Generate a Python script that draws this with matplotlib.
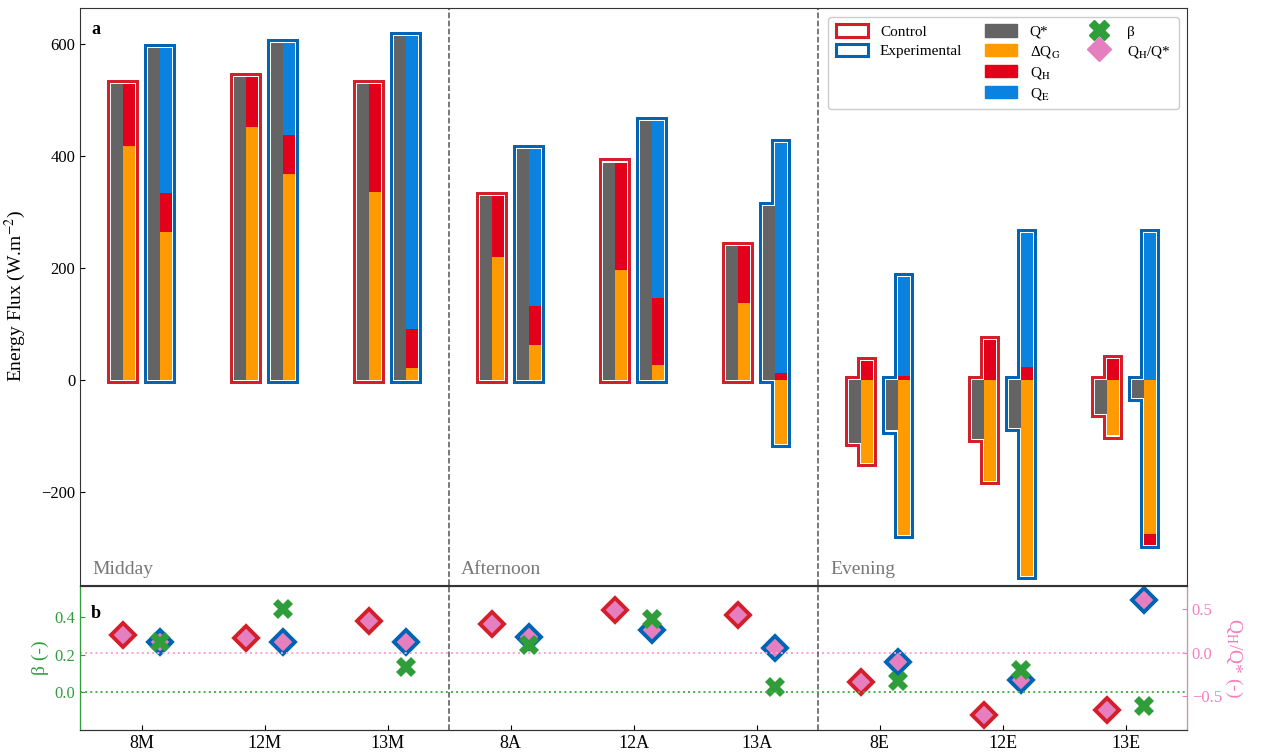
import numpy as np
import matplotlib
matplotlib.use('Agg')
import matplotlib.pyplot as plt
from matplotlib.patches import Patch
from matplotlib.lines import Line2D

plt.rcParams['font.family'] = ['Liberation Serif', 'DejaVu Serif']
plt.rcParams['mathtext.fontset'] = 'stix'

# Данные (W m-2)
sites = ['8M', '12M', '13M', '8A', '12A', '13A', '8E', '12E', '13E']
periods = ['Midday', 'Afternoon', 'Evening']

ctrl_qstar = [528, 540, 528, 328, 388, 239, -113, -106, -61]
ctrl_dqg = [417, 451, 336, 219, 197, 137, -148, -180, -99]
ctrl_qh = [111, 89, 192, 109, 191, 102, 34, 71, 37]
ctrl_qe = [0, 0, 0, 0, 0, 0, 0, 0, 0]

exp_qstar = [592, 602, 614, 412, 462, 310, -90, -86, -32]
exp_dqg = [265, 367, 21, 62, 26, -114, -277, -350, -275]
exp_qh = [69, 71, 70, 70, 120, 12, 7, 23, -19]
exp_qe = [258, 164, 523, 280, 316, 411, 177, 239, 262]

ctrl_ratio = [0.208, 0.163, 0.36, 0.333, 0.49, 0.428, -0.33, -0.708, -0.66]
exp_ratio = [0.117, 0.117, 0.117, 0.174, 0.258, 0.049, -0.11, -0.31, 0.60]
exp_beta = [0.267, 0.442, 0.135, 0.25, 0.389, 0.028, 0.058, 0.117, -0.071]

c_gray = '#646464'
c_orange = '#ff9a00'
c_red = '#e2001a'
c_blue = '#0a82e0'
c_ctrl = '#d41f2a'
c_exp = '#0064b4'
c_pink = '#e67fc0'
c_green = '#2f9e3a'
c_pink_ax = '#f77fc0'

x = np.arange(len(sites))
w = 0.1
off = 0.15
px, py = 0.008, 2.0


def draw_group(ax, xc, qstar, parts, edge):
    xg = xc - w / 2
    xs = xc + w / 2
    pos = np.zeros(len(xc))
    neg = np.zeros(len(xc))
    stacks = []
    for vals, col in parts:
        v = np.array(vals, dtype=float)
        bot = np.where(v >= 0, pos, neg)
        stacks.append((v, bot, col))
        pos = pos + np.clip(v, 0, None)
        neg = neg + np.clip(v, None, 0)
    qs = np.array(qstar, dtype=float)
    g_lo = np.minimum(0, qs)
    g_hi = np.maximum(0, qs)
    # контур: толстая рамка, затем белая подложка
    for face, ec, z in [('none', edge, 2), ('white', 'none', 3)]:
        ax.bar(xg, g_hi - g_lo + 2 * py, bottom=g_lo - py, width=w + 2 * px,
               facecolor=face, edgecolor=ec, linewidth=4.3, zorder=z)
        ax.bar(xs, pos - neg + 2 * py, bottom=neg - py, width=w + 2 * px,
               facecolor=face, edgecolor=ec, linewidth=4.3, zorder=z)
    ax.bar(xg, qs, width=w, color=c_gray, zorder=4)
    for v, bot, col in stacks:
        ax.bar(xs, v, bottom=bot, width=w, color=col, zorder=4)


fig = plt.figure(figsize=(12.63, 7.52), dpi=100)
ax = fig.add_axes([80 / 1263, 1 - 585 / 752, 1107 / 1263, 577 / 752])
axq = fig.add_axes([80 / 1263, 1 - 730 / 752, 1107 / 1263, 144 / 752])

draw_group(ax, x - off, ctrl_qstar,
           [(ctrl_dqg, c_orange), (ctrl_qh, c_red), (ctrl_qe, c_blue)], c_ctrl)
draw_group(ax, x + off, exp_qstar,
           [(exp_dqg, c_orange), (exp_qh, c_red), (exp_qe, c_blue)], c_exp)

ax.set_xlim(-0.5, 8.5)
ax.set_ylim(-366, 664)
ax.set_xticks([])
ax.set_yticks([-200, 0, 200, 400, 600])
ax.tick_params(axis='y', direction='in', labelsize=12)
ax.set_ylabel('Energy Flux (W.m$^{-2}$)', fontsize=14)
ax.yaxis.set_label_coords(-0.047, 0.5)
for s in ax.spines.values():
    s.set_color('#333333')
for xd in [2.5, 5.5]:
    ax.axvline(xd, color='#555555', ls='--', lw=1.1)
for i, p in enumerate(periods):
    ax.text(-0.4 + 3 * i, -354, p, color='#777777', fontsize=14, va='bottom')
ax.text(0.01, 0.955, 'a', transform=ax.transAxes, fontsize=13, fontweight='bold')

blank = Patch(alpha=0)
handles = [Patch(facecolor='white', edgecolor=c_ctrl, lw=2.2),
           Patch(facecolor='white', edgecolor=c_exp, lw=2.2), blank, blank,
           Patch(color=c_gray), Patch(color=c_orange), Patch(color=c_red), Patch(color=c_blue),
           Line2D([], [], ls='none', marker='X', ms=14, color=c_green),
           Line2D([], [], ls='none', marker='D', ms=12, color=c_pink), blank, blank]
labels = ['Control', 'Experimental', '', '', 'Q*', r'ΔQ$_\mathrm{G}$', r'Q$_\mathrm{H}$',
          r'Q$_\mathrm{E}$', 'β', r'Q$_\mathrm{H}$/Q*', '', '']
ax.legend(handles, labels, ncol=3, loc='upper right', bbox_to_anchor=(0.9995, 0.9985),
          fontsize=11, handlelength=2.1, handleheight=0.9, columnspacing=1.5,
          labelspacing=0.32, borderpad=0.5, framealpha=1, edgecolor='#cccccc')

# нижняя панель
axb = axq.twinx()
axq.yaxis.tick_right()
axq.yaxis.set_label_position('right')
axb.yaxis.tick_left()
axb.yaxis.set_label_position('left')

axq.plot(x - off, ctrl_ratio, ls='none', marker='D', ms=12.5, mfc=c_pink, mec=c_ctrl, mew=2.8)
axq.plot(x + off, exp_ratio, ls='none', marker='D', ms=12.5, mfc=c_pink, mec=c_exp, mew=2.8)
axq.axhline(0, color='#ff9ed2', ls=':', lw=1.4)
axb.plot(x + off, exp_beta, ls='none', marker='X', ms=14.5, color=c_green, mew=0)
axb.axhline(0, color='#45b045', ls=':', lw=1.4)

axq.set_xlim(-0.5, 8.5)
axq.set_ylim(-0.884, 0.763)
axb.set_ylim(-0.2, 0.566)
axq.set_xticks(x)
axq.set_xticklabels(sites, fontsize=13)
axq.set_yticks([-0.5, 0.0, 0.5])
axb.set_yticks([0.0, 0.2, 0.4])
axq.tick_params(axis='y', direction='in', colors=c_pink_ax, labelsize=12)
axq.tick_params(axis='x', direction='in', labelsize=13)
axb.tick_params(axis='y', direction='in', colors=c_green, labelsize=12)
axq.set_ylabel(r'Q$_\mathrm{H}$/Q* (-)', color=c_pink_ax, fontsize=14, rotation=270, labelpad=16)
axb.set_ylabel('β (-)', color=c_green, fontsize=14)
axb.spines['left'].set_color(c_green)
axb.spines['right'].set_color(c_pink_ax)
for a in (axq, axb):
    a.spines['top'].set_color('#333333')
    a.spines['bottom'].set_color('#333333')
for xd in [2.5, 5.5]:
    axq.axvline(xd, color='#555555', ls='--', lw=1.1)
axb.text(0.01, 0.78, 'b', transform=axq.transAxes, fontsize=13, fontweight='bold')

fig.savefig('out.png', dpi=100)
